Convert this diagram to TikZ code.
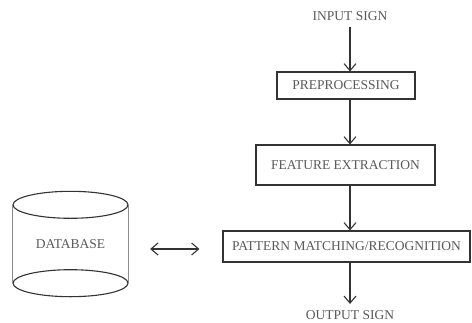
\documentclass[tikz,border=0pt]{standalone}
\usepackage{fontspec}
\setmainfont{Liberation Serif}
\usetikzlibrary{arrows.meta}

\begin{document}
\begin{tikzpicture}[x=1pt,y=-1pt,
    every node/.style={font=\fontsize{13.5}{15}\selectfont,text=black!65},
    box/.style={draw=black!80,line width=1.1pt,inner sep=0pt},
    arr/.style={draw=black!80,line width=1.1pt,-{Straight Barb[length=7pt,width=12pt]}},
    dbl/.style={draw=black!80,line width=1.1pt,{Straight Barb[length=7pt,width=12pt]}-{Straight Barb[length=7pt,width=12pt]}}]
      \useasboundingbox (0,0) rectangle (472,322);
      \node (in) at (350,16) {INPUT SIGN};
      \node[box,minimum width=138pt,minimum height=27pt] (pre) at (346,85.5) {PREPROCESSING};
      \node[box,minimum width=179pt,minimum height=40pt] (feat) at (345.5,165) {FEATURE EXTRACTION};
      \node[box,minimum width=247pt,minimum height=31pt] (match) at (346.5,246.5) {PATTERN MATCHING/RECOGNITION};
      \node (out) at (350,315) {OUTPUT SIGN};
      \node[minimum width=115pt,minimum height=78pt,inner sep=0pt] (db) at (70.5,244) {DATABASE};
      \draw[line width=1.1pt,draw=black!80] (db.north) ellipse [x radius=57.5pt,y radius=13.5pt];
      \draw[line width=1.1pt,draw=black!80] (db.south) ellipse [x radius=57.5pt,y radius=13.5pt];
      \draw[line width=0.8pt,draw=black!45] (db.north west) -- (db.south west);
      \draw[line width=0.8pt,draw=black!45] (db.north east) -- (db.south east);
      \draw[arr,shorten <=3pt] (in) -- (in |- pre.north);
      \draw[arr] (in |- pre.south) -- (in |- feat.north);
      \draw[arr] (in |- feat.south) -- (in |- match.north);
      \draw[arr,shorten >=3pt] (in |- match.south) -- (out);
      \draw[dbl,shorten <=22pt,shorten >=23pt] ([yshift=-2.5pt]db.east |- match.west) -- ([yshift=-2.5pt]match.west);
    \end{tikzpicture}
\end{document}
